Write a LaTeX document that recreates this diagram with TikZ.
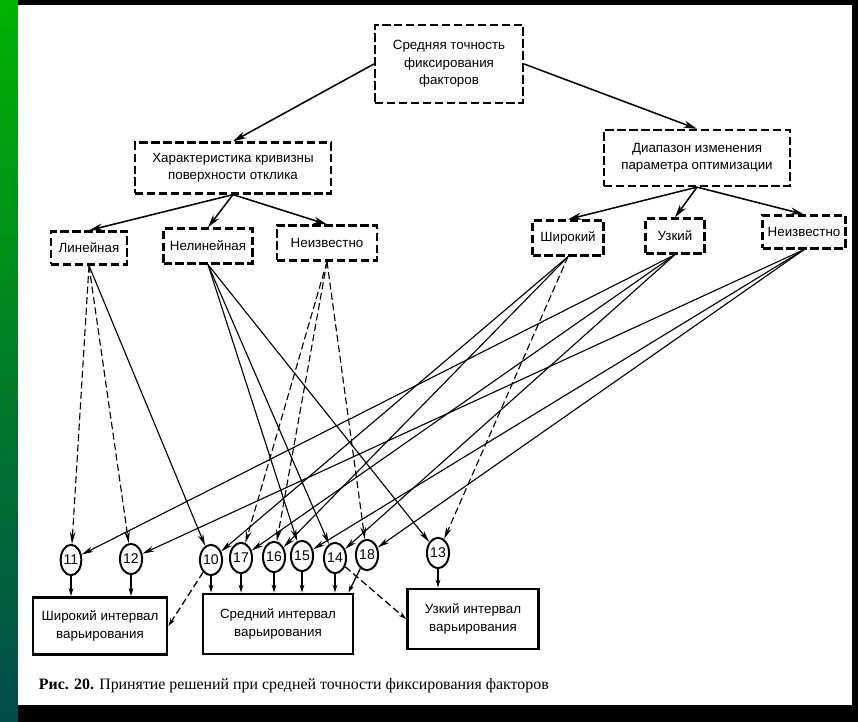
\documentclass[tikz,border=0pt]{standalone}
\usepackage{fontspec}
\setmainfont{Liberation Serif}
\newfontfamily\boxfont{Liberation Sans}
\usetikzlibrary{shapes.geometric,arrows.meta}
\newcommand{\two}[2]{#1\\#2}

\tikzset{
  dbox/.style={draw, line width=1.6pt, dash pattern=on 6pt off 2.5pt, align=center,
    inner sep=1pt, font=\boxfont\fontsize{9.5}{12.5}\selectfont},
  sbox/.style={draw, line width=2pt, align=center, inner sep=1pt,
    font=\boxfont\fontsize{9.5}{13}\selectfont},
  dec/.style={draw, ellipse, line width=1.4pt, inner sep=0pt, minimum width=4.8mm,
    minimum height=7.6mm, font=\boxfont\fontsize{10}{12}\selectfont},
  arr/.style={-{Stealth[length=3.4mm,width=1.8mm]}, line width=1.1pt},
  larr/.style={-{Stealth[length=3mm,width=1.4mm]}, line width=0.8pt},
  sarr/.style={-{Stealth[length=2mm,width=1.2mm]}, line width=0.9pt},
  ldash/.style={dash pattern=on 5pt off 2.5pt}
}

\begin{document}
\begin{tikzpicture}[x=0.25mm,y=-0.25mm]

  %% page
  \fill[black] (0,0) rectangle (858,722);
  \shade[top color=green!70!black, bottom color=teal!60!black] (0,0) rectangle (18,722);
  \fill[white] (18,5) rectangle (852,705);
  \useasboundingbox (0,0) rectangle (858,722);

  %% -- top levels
  \node[dbox, minimum width=37mm, minimum height=19.5mm] (top) at (449,64)
    {Средняя точность\\фиксирования\\факторов};
  \node[dbox, minimum width=49mm, minimum height=12.75mm] (crv) at (233,168)
    {\two{Характеристика кривизны}{поверхности отклика}};
  \node[dbox, minimum width=46.5mm, minimum height=14mm] (rng) at (697,158)
    {\two{Диапазон изменения}{параметра оптимизации}};

  \node[dbox, minimum width=19mm, minimum height=8.25mm] (lin) at (89,248) {Линейная};
  \node[dbox, minimum width=22.25mm, minimum height=8.75mm] (nlin) at (208,246) {Нелинейная};
  \node[dbox, minimum width=25mm, minimum height=8.75mm] (unkL) at (327,243) {Неизвестно};

  \node[dbox, minimum width=17.75mm, minimum height=8.75mm] (wide) at (568,238) {Широкий};
  \node[dbox, minimum width=14.75mm, minimum height=8.75mm] (narr) at (675,236) {Узкий};
  \node[dbox, minimum width=20.75mm, minimum height=8.25mm] (unkR) at (804,232) {Неизвестно};

  %% -- decisions
  \foreach \n/\x/\y in {11/71/560, 12/131/559, 10/211/560, 17/241/558, 16/274/557,
                        15/302/556, 14/335/558, 18/367/555, 13/438/553}
    \node[dec] (\n) at (\x,\y) {\n};

  \node[sbox, minimum width=33.5mm, minimum height=14.25mm] (iwide) at (100,626)
    {\two{Широкий интервал}{варьирования}};
  \node[sbox, minimum width=37.5mm, minimum height=15mm] (imid) at (278,624)
    {\two{Средний интервал}{варьирования}};
  \node[sbox, minimum width=32.75mm, minimum height=15mm] (inarr) at (473,619)
    {\two{Узкий интервал}{варьирования}};

  \node[anchor=west, font=\fontsize{11.3}{14}\selectfont] (cap) at (34,686)
    {\textbf{Рис. 20.} Принятие решений при средней точности фиксирования факторов};

  %% -- edges
  %% top
  \draw[arr] (top.west) -- (crv.north);
  \draw[arr] (top.east) -- (rng.north);
  %% curvature
  \draw[arr] (crv.south) -- (lin.north);
  \draw[arr] (crv.south) -- (nlin.north);
  \draw[arr] (crv.south) -- (unkL.north);
  %% range
  \draw[arr] (rng.south) -- (wide.north);
  \draw[arr] (rng.south) -- (narr.north);
  \draw[arr] (rng.south) -- (unkR.north);
  %% linear
  \draw[larr,ldash] (lin.south) -- (11);
  \draw[larr,ldash] (lin.south) -- (12);
  \draw[larr] (lin.south) -- (10);
  %% nonlinear
  \draw[larr] (nlin.south) -- (13);
  \draw[larr] (nlin.south) -- (14);
  \draw[larr] (nlin.south) -- (15);
  %% unknown curvature
  \draw[larr,ldash] (unkL.south) -- (16);
  \draw[larr,ldash] (unkL.south) -- (17);
  \draw[larr,ldash] (unkL.south) -- (18);
  %% wide range
  \draw[larr] (wide.south) -- (10);
  \draw[larr,ldash] (wide.south) -- (13);
  \draw[larr] (wide.south) -- (16);
  %% narrow range
  \draw[larr] (narr.south) -- (11);
  \draw[larr] (narr.south) -- (14);
  \draw[larr] (narr.south) -- (17);
  %% unknown range
  \draw[larr] (unkR.south) -- (12);
  \draw[larr] (unkR.south) -- (15);
  \draw[larr] (unkR.south) -- (18);

  %% decisions -> intervals
  \foreach \n in {11,12} \draw[sarr] (\n) -- (\n |- iwide.north);
  \foreach \n in {10,17,16,15,14} \draw[sarr] (\n) -- (\n |- imid.north);
  \draw[sarr] (18) -- ([xshift=-1.5mm]imid.north east);
  \draw[sarr] (13) -- (13 |- inarr.north);
  \draw[sarr,ldash] (10) -- (iwide.east);
  \draw[sarr,ldash] (14) -- (inarr.west);

\end{tikzpicture}
\end{document}
